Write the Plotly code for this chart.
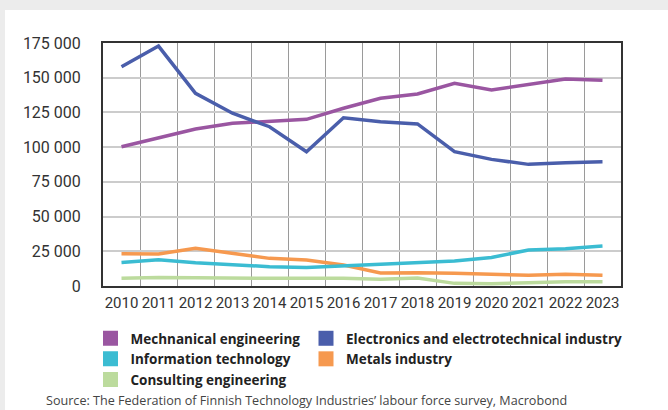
import plotly.graph_objects as go

years = [str(y) for y in range(2010, 2024)]

mechanical = [100300, 106800, 113100, 117200, 118800, 120000, 128000, 135200, 138300, 146000, 141100, 145200, 149100, 148100]
electronics = [157900, 172800, 138800, 124400, 114700, 96700, 121200, 118300, 116700, 96700, 91200, 87600, 88800, 89500]
info_tech = [17000, 18900, 16800, 15100, 13900, 13400, 14500, 15600, 16600, 18000, 20600, 25900, 26900, 28800]
metals = [23300, 23000, 27100, 23500, 19900, 18700, 15100, 9400, 9600, 9100, 8200, 7700, 8400, 7700]
consulting = [5500, 6200, 5900, 5500, 5500, 5500, 5500, 4800, 5800, 1900, 1700, 2400, 3100, 3100]

series = [
    ("Mechnanical engineering", mechanical, "#9a56a1", "legend"),
    ("Electronics and electrotechnical industry", electronics, "#4a5eab", "legend2"),
    ("Information technology", info_tech, "#3bbcd2", "legend"),
    ("Metals industry", metals, "#f6994f", "legend2"),
    ("Consulting engineering", consulting, "#bcdb9d", "legend"),
]

y_ticks = [0, 25000, 50000, 75000, 100000, 125000, 150000, 175000]
y_labels = ["0", "25 000", "50 000", "75 000", "100 000", "125 000", "150 000", "175 000"]

fig = go.Figure()
for name, vals, col, lg in [series[4], series[3], series[2], series[0], series[1]]:
    fig.add_trace(go.Scatter(x=years, y=vals, mode="lines", name=name,
                             line=dict(color=col, width=3.5), showlegend=False))
for name, vals, col, lg in series:
    fig.add_trace(go.Scatter(x=[None], y=[None], mode="markers", name=name, legend=lg,
                             marker=dict(symbol="square", size=15, color=col)))

L, R, T, B = 103, 47, 43, 124
W, H = 668, 410
pw, ph = W - L - R, H - T - B

fig.add_shape(type="rect", xref="paper", yref="paper", layer="below",
              x0=(5 - L) / pw, x1=(W - L) / pw,
              y0=(T + ph - H) / ph, y1=(T + ph - 10) / ph,
              fillcolor="white", line=dict(width=0))

legend_font = dict(family="Open Sans", size=13.5, color="#222222", weight="bold")
leg_y = -(323 - (T + ph)) / ph

fig.update_layout(
    width=W, height=H,
    margin=dict(l=L, r=R, t=T, b=B, autoexpand=False),
    paper_bgcolor="#ececec",
    plot_bgcolor="white",
    font=dict(family="Roboto", size=15, color="#333333"),
    xaxis=dict(type="category", tickson="boundaries", showgrid=True,
               gridcolor="#9a9a9a", gridwidth=1, ticks="", showline=True,
               linecolor="#333333", linewidth=2, mirror=True, tickangle=0,
               tickfont=dict(size=15, color="#333333"), ticklabelstandoff=2,
               range=[-0.5, 13.5], zeroline=False),
    yaxis=dict(range=[0, 175000], tickvals=y_ticks, ticktext=y_labels,
               showgrid=True, gridcolor="#cccccc", gridwidth=2,
               showline=True, linecolor="#333333", linewidth=2, mirror=True,
               zeroline=False, ticks="", ticklabelstandoff=17,
               tickfont=dict(size=16, color="#333333")),
    legend=dict(orientation="v", x=(90.5 - L) / pw, xanchor="left", y=leg_y, yanchor="top",
                itemsizing="trace", tracegroupgap=0, font=legend_font,
                bgcolor="rgba(0,0,0,0)", traceorder="normal"),
    legend2=dict(orientation="v", x=(306 - L) / pw, xanchor="left", y=leg_y, yanchor="top",
                 itemsizing="trace", tracegroupgap=0, font=legend_font,
                 bgcolor="rgba(0,0,0,0)", traceorder="normal"),
    annotations=[dict(text="Source: The Federation of Finnish Technology Industries’ labour force survey, Macrobond",
                      xref="paper", yref="paper", x=(45 - L) / pw, y=(T + ph - H) / ph,
                      xanchor="left", yanchor="bottom", showarrow=False, borderpad=0,
                      font=dict(family="Open Sans", size=12.6, color="#444444"))],
)

fig.write_html("out.html", config={"displayModeBar": False},
               post_script="document.body.style.margin='0';")
